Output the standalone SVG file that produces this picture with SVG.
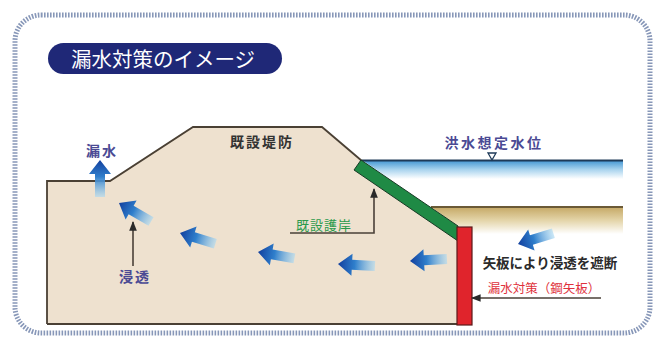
<svg xmlns="http://www.w3.org/2000/svg" width="657" height="340" viewBox="0 0 657 340">
  <style>
    .jp { font-family: "Noto Sans CJK JP", "Noto Sans", sans-serif; text-anchor: middle; }
    .lbl { font-size: 14px; font-weight: bold; }
    .blue { fill: #4b4a94; }
    .lead { fill: none; stroke: #4a4038; stroke-width: 1.6; }
    .seep { fill: url(#seepGrad); }
  </style>
  <defs>
    <linearGradient id="seepGrad" x1="0" y1="0" x2="1" y2="0">
      <stop offset="0" stop-color="#123f9e"/>
      <stop offset="0.45" stop-color="#2f7fcc"/>
      <stop offset="1" stop-color="#a9d8f2" stop-opacity="0.6"/>
    </linearGradient>
    <linearGradient id="waterGrad" x1="0" y1="0" x2="0" y2="1">
      <stop offset="0" stop-color="#3d93d2"/>
      <stop offset="0.5" stop-color="#a8d3ee"/>
      <stop offset="1" stop-color="#ffffff"/>
    </linearGradient>
    <linearGradient id="bedGrad" x1="0" y1="0" x2="0" y2="1">
      <stop offset="0" stop-color="#c5a865"/>
      <stop offset="0.5" stop-color="#e4d5aa"/>
      <stop offset="1" stop-color="#ffffff"/>
    </linearGradient>
    <!-- fat seepage arrow, head at origin, tail towards +x -->
    <path id="seepArrow" d="M0,0 L14,-11 L14,-5 L37,-5 L37,5 L14,5 L14,11 Z"/>
    <marker id="tip" viewBox="0 0 10 10" refX="9" refY="5" markerWidth="6" markerHeight="6" orient="auto">
      <path d="M0,1 L10,5 L0,9 Z" fill="#2a2a2a"/>
    </marker>
  </defs>

  <!-- frame -->
  <rect x="0" y="0" width="657" height="340" fill="#ffffff"/>
  <rect x="15" y="15" width="635" height="318" rx="26" fill="#ffffff" stroke="#8797b8" stroke-width="5" stroke-dasharray="1.6 1.4"/>

  <!-- title -->
  <g id="title">
    <rect x="48" y="43" width="234" height="31" rx="15.5" fill="#1f2877"/>
    <text class="jp" x="163" y="66.5" font-size="20.5" fill="#ffffff">漏水対策のイメージ</text>
  </g>

  <!-- river: flood water band and riverbed -->
  <g id="river">
    <polygon points="362,160 623,160 623,179 390,179" fill="url(#waterGrad)"/>
    <polygon points="431,207 623,207 623,234 472,234 472,227 458,226" fill="url(#bedGrad)"/>
    <line x1="362" y1="160.5" x2="623" y2="160.5" stroke="#1e3a58" stroke-width="2"/>
    <line x1="431" y1="207" x2="623" y2="207" stroke="#6b5a36" stroke-width="2"/>
    <path d="M488,153 L496,153 L492,160 Z" fill="#ffffff" stroke="#1e3a58" stroke-width="1.3"/>
    <text class="jp lbl blue" x="494" y="148" letter-spacing="2.5" fill="#3f4070">洪水想定水位</text>
  </g>

  <!-- existing levee body -->
  <g id="levee">
    <polygon points="47,181 110,181 193,127 322,127 362,161 458,227 458,324 47,324" fill="#eee1cf"/>
    <polyline points="47,324 47,181 110,181 193,127 322,127 362,161" fill="none" stroke="#4a4034" stroke-width="1.8"/>
    <line x1="47" y1="324" x2="458" y2="324" stroke="#4a4034" stroke-width="2.2"/>
    <text class="jp lbl" x="262" y="147" letter-spacing="2" fill="#333333">既設堤防</text>
  </g>

  <!-- existing revetment -->
  <g id="revetment">
    <polygon points="361,160 458,226 458,241 354,170" fill="#1f8a45" stroke="#173a25" stroke-width="1"/>
  </g>

  <!-- steel sheet pile -->
  <g id="sheet-pile">
    <rect x="457" y="227" width="15" height="98" fill="#e0242c" stroke="#5a1a1a" stroke-width="1.2"/>
  </g>

  <!-- seepage flow arrows -->
  <g id="seepage">
    <use href="#seepArrow" class="seep" transform="translate(100,160) rotate(90)"/>
    <use href="#seepArrow" class="seep" transform="translate(119,203) rotate(30)"/>
    <use href="#seepArrow" class="seep" transform="translate(180,233) rotate(17)"/>
    <use href="#seepArrow" class="seep" transform="translate(258,252) rotate(10)"/>
    <use href="#seepArrow" class="seep" transform="translate(338,264) rotate(3)"/>
    <use href="#seepArrow" class="seep" transform="translate(410,261) rotate(-3)"/>
    <use href="#seepArrow" class="seep" transform="translate(518,244) rotate(-17)"/>
  </g>

  <!-- connectors / leaders -->
  <g id="connectors">
    <line class="lead" x1="133" y1="266" x2="133" y2="222" marker-end="url(#tip)"/>
    <polyline class="lead" points="290,233 374,233 374,189" marker-end="url(#tip)"/>
    <line class="lead" x1="601" y1="298" x2="472" y2="298" stroke="#505050" marker-end="url(#tip)"/>
  </g>

  <!-- labels -->
  <g id="labels">
    <text class="jp lbl blue" x="102" y="156" letter-spacing="2">漏水</text>
    <text class="jp lbl blue" x="135" y="282" letter-spacing="2">浸透</text>
    <text class="jp" x="324" y="230" font-size="13" letter-spacing="1" fill="#2a9a4c">既設護岸</text>
    <text class="jp" x="550" y="268" font-size="13.5" font-weight="bold" fill="#2a2a2a">矢板により浸透を遮断</text>
    <text class="jp" x="544" y="293" font-size="12.5" fill="#e0323c">漏水対策（鋼矢板）</text>
  </g>
</svg>
